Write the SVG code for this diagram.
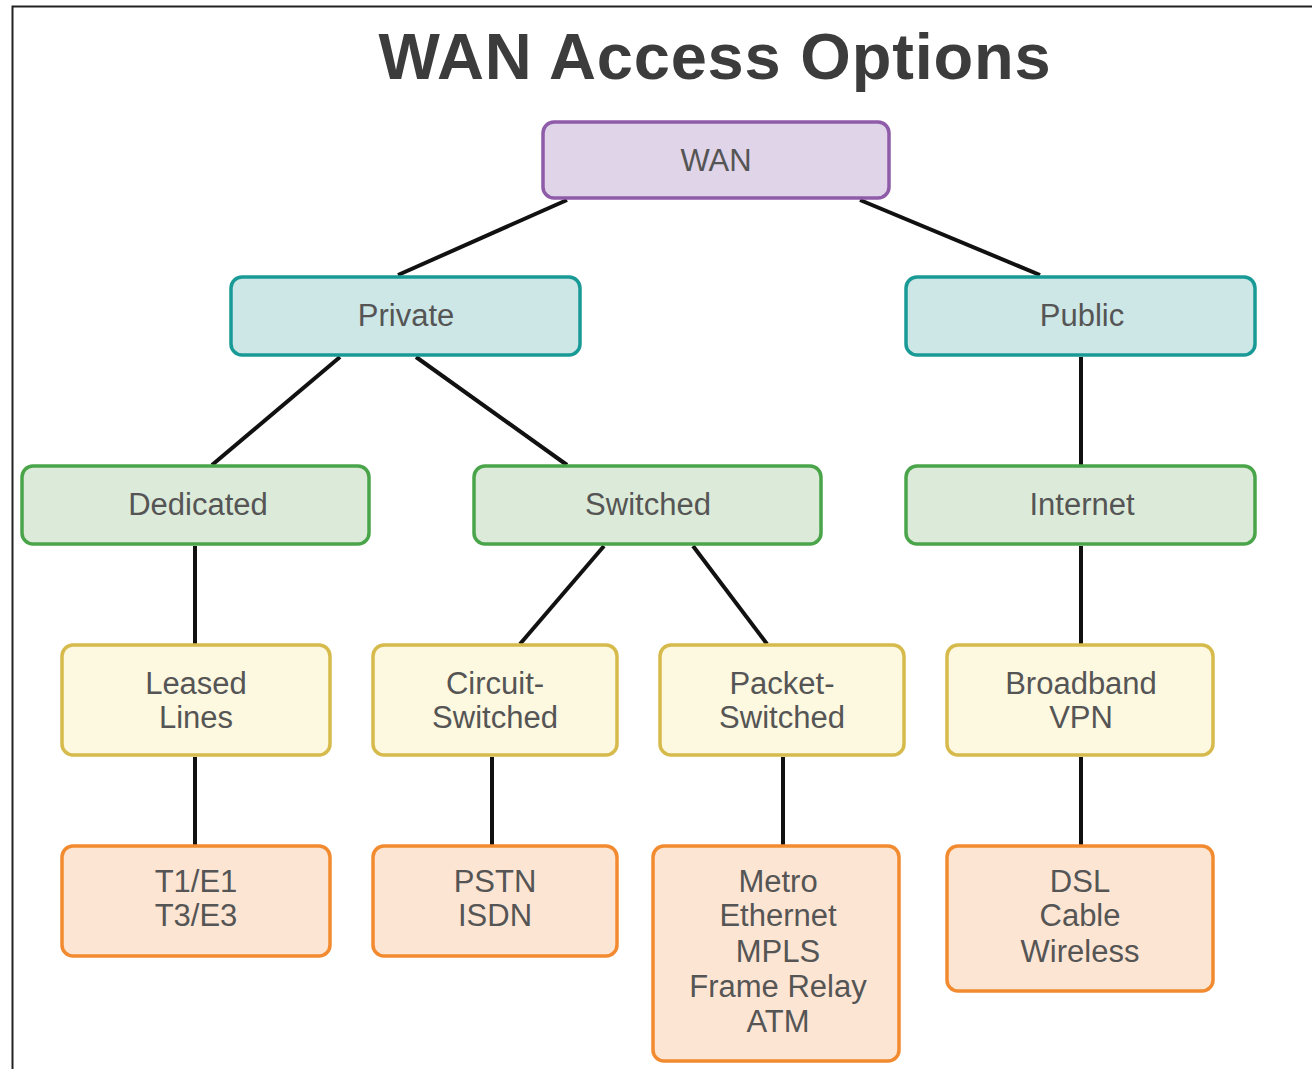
<svg xmlns="http://www.w3.org/2000/svg" width="1312" height="1069" viewBox="0 0 1312 1069">
<style>
.t{font-family:"Liberation Sans",Arial,sans-serif;font-size:31px;fill:#555;text-anchor:middle}
.title{font-family:"Liberation Sans",Arial,sans-serif;font-size:65px;font-weight:bold;fill:#3c3c3c;text-anchor:middle;letter-spacing:0.8px}
.n{stroke-width:3.5}
.wan{fill:#e0d4e8;stroke:#8e5ca8}
.l1{fill:#cde7e6;stroke:#1a9a96}
.l2{fill:#dcebd9;stroke:#4aa54a}
.l3{fill:#fdf8e0;stroke:#d6bb4c}
.l4{fill:#fde5d3;stroke:#f28a30}
#connectors line{stroke:#111;stroke-width:4}
</style>
<rect width="1312" height="1069" fill="#fff"/>
<path d="M12.5,1069 V6.5 H1312" fill="none" stroke="#222" stroke-width="2"/>
<text class="title" x="715" y="79">WAN Access Options</text>
<g id="connectors">
<line x1="567" y1="200" x2="398" y2="275"/>
<line x1="860" y1="200" x2="1040" y2="275"/>
<line x1="340" y1="357" x2="212" y2="465"/>
<line x1="416" y1="357" x2="567" y2="465"/>
<line x1="1081" y1="357" x2="1081" y2="465"/>
<line x1="195" y1="546" x2="195" y2="644"/>
<line x1="604" y1="546" x2="520" y2="644"/>
<line x1="693" y1="546" x2="767" y2="644"/>
<line x1="1081" y1="546" x2="1081" y2="644"/>
<line x1="195" y1="757" x2="195" y2="845"/>
<line x1="492" y1="757" x2="492" y2="845"/>
<line x1="783" y1="757" x2="783" y2="845"/>
<line x1="1081" y1="757" x2="1081" y2="845"/>
</g>
<g id="wan"><rect class="n wan" x="543" y="122" width="346" height="76" rx="11"/><text class="t" x="716" y="171">WAN</text></g>
<g id="private"><rect class="n l1" x="231" y="277" width="349" height="78" rx="11"/><text class="t" x="406" y="326">Private</text></g>
<g id="public"><rect class="n l1" x="906" y="277" width="349" height="78" rx="11"/><text class="t" x="1082" y="326">Public</text></g>
<g id="dedicated"><rect class="n l2" x="22" y="466" width="347" height="78" rx="11"/><text class="t" x="198" y="515">Dedicated</text></g>
<g id="switched"><rect class="n l2" x="474" y="466" width="347" height="78" rx="11"/><text class="t" x="648" y="515">Switched</text></g>
<g id="internet"><rect class="n l2" x="906" y="466" width="349" height="78" rx="11"/><text class="t" x="1082" y="515">Internet</text></g>
<g id="leased"><rect class="n l3" x="62" y="645" width="268" height="110" rx="11"/><text class="t" x="196" y="694">Leased</text><text class="t" x="196" y="728">Lines</text></g>
<g id="circuit"><rect class="n l3" x="373" y="645" width="244" height="110" rx="11"/><text class="t" x="495" y="694">Circuit-</text><text class="t" x="495" y="728">Switched</text></g>
<g id="packet"><rect class="n l3" x="660" y="645" width="244" height="110" rx="11"/><text class="t" x="782" y="694">Packet-</text><text class="t" x="782" y="728">Switched</text></g>
<g id="broadband"><rect class="n l3" x="947" y="645" width="266" height="110" rx="11"/><text class="t" x="1081" y="694">Broadband</text><text class="t" x="1081" y="728">VPN</text></g>
<g id="t1"><rect class="n l4" x="62" y="846" width="268" height="110" rx="11"/><text class="t" x="196" y="892">T1/E1</text><text class="t" x="196" y="926">T3/E3</text></g>
<g id="pstn"><rect class="n l4" x="373" y="846" width="244" height="110" rx="11"/><text class="t" x="495" y="892">PSTN</text><text class="t" x="495" y="926">ISDN</text></g>
<g id="metro"><rect class="n l4" x="653" y="846" width="246" height="215" rx="11"/><text class="t" x="778" y="892">Metro</text><text class="t" x="778" y="926">Ethernet</text><text class="t" x="778" y="962">MPLS</text><text class="t" x="778" y="997">Frame Relay</text><text class="t" x="778" y="1032">ATM</text></g>
<g id="dsl"><rect class="n l4" x="947" y="846" width="266" height="145" rx="11"/><text class="t" x="1080" y="892">DSL</text><text class="t" x="1080" y="926">Cable</text><text class="t" x="1080" y="962">Wireless</text></g>
</svg>
